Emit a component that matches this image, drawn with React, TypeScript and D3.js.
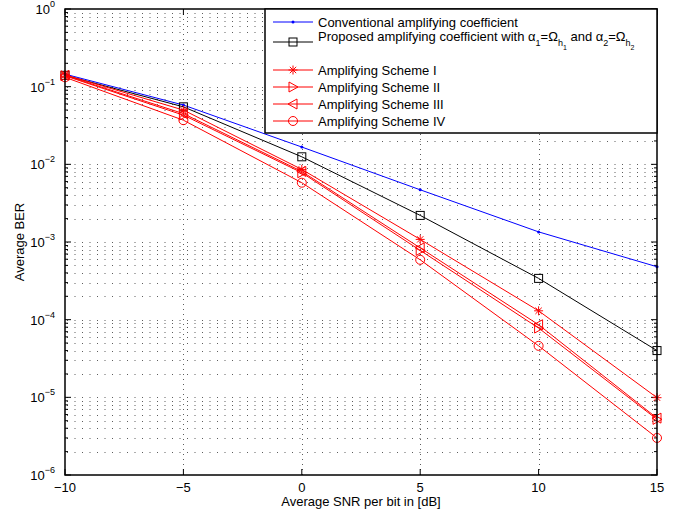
import React from "react";
import * as d3 from "d3";

const snr = [-10, -5, 0, 5, 10, 15];
const conventional = [0.145, 0.058, 0.0167, 0.0047, 0.00135, 0.00048];
const proposed = [0.14, 0.055, 0.0125, 0.0022, 0.00034, 0.00004];
const schemeI = [0.142, 0.05, 0.0086, 0.00108, 0.00013, 0.0000099];
const schemeII = [0.138, 0.043, 0.0078, 0.00078, 0.000078, 0.0000052];
const schemeIII = [0.14, 0.045, 0.0081, 0.00084, 0.000086, 0.0000054];
const schemeIV = [0.132, 0.037, 0.0058, 0.00059, 0.000046, 0.000003];
const xTicks = [-10, -5, 0, 5, 10, 15];
const yExps = [0, -1, -2, -3, -4, -5, -6];

const W = 688, H = 516;
const L = 65, R = 657, T = 9, B = 475;
const FONT = "'Liberation Sans', Arial, Helvetica, sans-serif";

type Marker = "dot" | "square" | "star" | "triR" | "triL" | "circle";

const series: { name: string; values: number[]; color: string; marker: Marker }[] = [
  { name: "conv", values: conventional, color: "#0000ff", marker: "dot" },
  { name: "prop", values: proposed, color: "#000000", marker: "square" },
  { name: "I", values: schemeI, color: "#ff0000", marker: "star" },
  { name: "II", values: schemeII, color: "#ff0000", marker: "triR" },
  { name: "III", values: schemeIII, color: "#ff0000", marker: "triL" },
  { name: "IV", values: schemeIV, color: "#ff0000", marker: "circle" },
];

function MarkerShape({ m, x, y, c }: { m: Marker; x: number; y: number; c: string }) {
  const s = 4;
  switch (m) {
    case "dot":
      return <circle cx={x} cy={y} r={1.5} fill={c} />;
    case "square":
      return <rect x={x - s} y={y - s} width={2 * s} height={2 * s} fill="none" stroke={c} strokeWidth={1} />;
    case "circle":
      return <circle cx={x} cy={y} r={4.5} fill="none" stroke={c} strokeWidth={1} />;
    case "triR":
      return <path d={`M${x + s + 1},${y} L${x - s},${y - s - 1} L${x - s},${y + s + 1} Z`} fill="none" stroke={c} strokeWidth={1} />;
    case "triL":
      return <path d={`M${x - s - 1},${y} L${x + s},${y - s - 1} L${x + s},${y + s + 1} Z`} fill="none" stroke={c} strokeWidth={1} />;
    case "star": {
      const r = 4.5;
      const d = r * 0.707;
      return (
        <path
          d={`M${x - r},${y} L${x + r},${y} M${x},${y - r} L${x},${y + r} M${x - d},${y - d} L${x + d},${y + d} M${x - d},${y + d} L${x + d},${y - d}`}
          stroke={c}
          strokeWidth={1}
        />
      );
    }
  }
}

export default function App() {
  const x = d3.scaleLinear().domain([-10, 15]).range([L, R]);
  const y = d3.scaleLog().domain([1e-6, 1]).range([B, T]);
  const line = d3
    .line<number>()
    .x((_, i) => x(snr[i]))
    .y((v) => y(v));

  const minor: number[] = [];
  for (let e = -6; e < 0; e++) {
    for (let k = 2; k <= 9; k++) minor.push(k * Math.pow(10, e));
  }
  const majors = yExps.map((e) => Math.pow(10, e));

  const legX = 265, legY = 9, legW = R - 265, legH = 124;
  const rows = [22, 42, 70, 87, 104, 121];

  return (
    <svg width={W} height={H} style={{ position: "absolute", left: 0, top: 0, background: "#fff" }} fontFamily={FONT}>
      <rect x={0} y={0} width={W} height={H} fill="#fff" />
      {/* grid */}
      <g stroke="#333" strokeWidth={0.8}>
        {[...minor, ...majors.slice(1, -1)].map((v, i) => (
          <line key={"h" + i} x1={L + 2} x2={R} y1={Math.round(y(v)) + 0.5} y2={Math.round(y(v)) + 0.5} strokeDasharray="1,6.5" />
        ))}
        {xTicks.slice(1, -1).map((t) => (
          <line key={"v" + t} x1={Math.round(x(t)) + 0.5} x2={Math.round(x(t)) + 0.5} y1={T} y2={B} strokeDasharray="1,4" />
        ))}
      </g>
      {/* ticks */}
      <g stroke="#000" strokeWidth={1}>
        {majors.map((v, i) => (
          <g key={"mt" + i}>
            <line x1={L} x2={L + 6} y1={y(v)} y2={y(v)} />
            <line x1={R} x2={R - 6} y1={y(v)} y2={y(v)} />
          </g>
        ))}
        {minor.map((v, i) => (
          <g key={"mn" + i}>
            <line x1={L} x2={L + 3} y1={y(v)} y2={y(v)} />
            <line x1={R} x2={R - 3} y1={y(v)} y2={y(v)} />
          </g>
        ))}
        {xTicks.map((t) => (
          <g key={"xt" + t}>
            <line x1={x(t)} x2={x(t)} y1={B} y2={B - 6} />
            <line x1={x(t)} x2={x(t)} y1={T} y2={T + 6} />
          </g>
        ))}
      </g>
      {/* series */}
      {series.map((s) => (
        <g key={s.name}>
          <path d={line(s.values) || ""} fill="none" stroke={s.color} strokeWidth={1} />
          {s.values.map((v, i) => (
            <MarkerShape key={i} m={s.marker} x={x(snr[i])} y={y(v)} c={s.color} />
          ))}
        </g>
      ))}
      {/* axes box */}
      <rect x={L} y={T} width={R - L} height={B - T} fill="none" stroke="#000" strokeWidth={1.5} />
      {/* y tick labels */}
      {yExps.map((e) => (
        <text key={"yl" + e} x={L - 10} y={y(Math.pow(10, e)) + 5} textAnchor="end" fontSize={13}>
          10
          <tspan dy={-7} fontSize={9}>{e === 0 ? "0" : "\u2212" + Math.abs(e)}</tspan>
        </text>
      ))}
      {/* x tick labels */}
      {xTicks.map((t) => (
        <text key={"xl" + t} x={x(t)} y={B + 17} textAnchor="middle" fontSize={13}>
          {t < 0 ? "\u2212" + Math.abs(t) : String(t)}
        </text>
      ))}
      <text x={(L + R) / 2} y={B + 31} textAnchor="middle" fontSize={13}>
        Average SNR per bit in [dB]
      </text>
      <text transform={`translate(24,${(T + B) / 2}) rotate(-90)`} textAnchor="middle" fontSize={13}>
        Average BER
      </text>
      {/* legend */}
      <rect x={legX} y={legY} width={legW} height={legH} fill="#fff" stroke="#000" strokeWidth={1.5} />
      {series.map((s, i) => (
        <g key={"lg" + s.name}>
          <line x1={273} x2={313} y1={rows[i]} y2={rows[i]} stroke={s.color} strokeWidth={1} />
          <MarkerShape m={s.marker} x={293} y={rows[i]} c={s.color} />
        </g>
      ))}
      <g fontSize={13}>
        <text x={318} y={rows[0] + 4.5}>Conventional amplifying coefficient</text>
        <text x={318} y={rows[1] - 1}>
          Proposed amplifying coefficient with α
          <tspan dy={5} fontSize={9}>1</tspan>
          <tspan dy={-5}>=Ω</tspan>
          <tspan dy={5} fontSize={9}>h</tspan>
          <tspan dy={4} fontSize={7}>1</tspan>
          <tspan dy={-9}>{"  and α"}</tspan>
          <tspan dy={5} fontSize={9}>2</tspan>
          <tspan dy={-5}>=Ω</tspan>
          <tspan dy={5} fontSize={9}>h</tspan>
          <tspan dy={4} fontSize={7}>2</tspan>
        </text>
        <text x={318} y={rows[2] + 4.5}>Amplifying Scheme I</text>
        <text x={318} y={rows[3] + 4.5}>Amplifying Scheme II</text>
        <text x={318} y={rows[4] + 4.5}>Amplifying Scheme III</text>
        <text x={318} y={rows[5] + 4.5}>Amplifying Scheme IV</text>
      </g>
    </svg>
  );
}
